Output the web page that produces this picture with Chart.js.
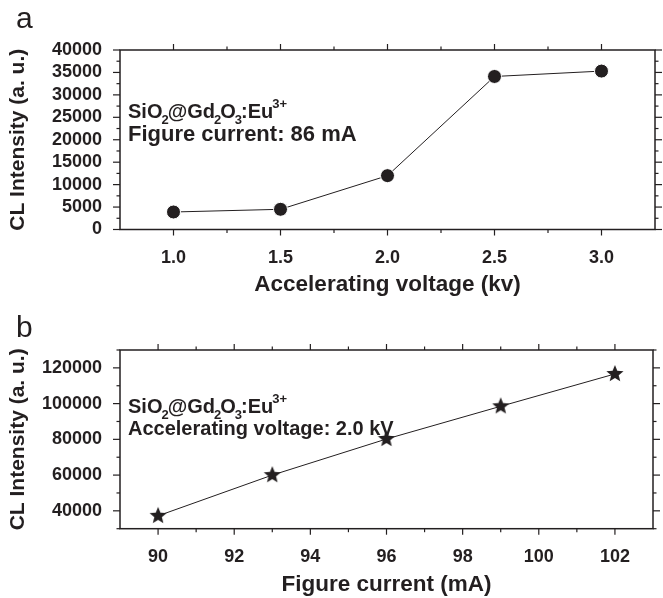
<!DOCTYPE html>
<html>
<head>
<meta charset="utf-8">
<script src="https://cdn.jsdelivr.net/npm/chart.js@4"></script>
<style>
  body { margin: 0; background: #fff; }
  #wrapA { position: absolute; left: 0; top: 0; width: 663px; height: 300px; }
  #wrapB { position: absolute; left: 0; top: 300px; width: 663px; height: 298px; }
</style>
</head>
<body>
<div id="wrapA"><canvas id="chartA"></canvas></div>
<div id="wrapB"><canvas id="chartB"></canvas></div>
<script>
// panel a: CL intensity vs accelerating voltage
var voltage = [1.0, 1.5, 2.0, 2.5, 3.0];
var intensityA = [3900, 4500, 12000, 34100, 35300];
var xTicksA = [1.0, 1.5, 2.0, 2.5, 3.0];
var yTicksA = [0, 5000, 10000, 15000, 20000, 25000, 30000, 35000, 40000];

// panel b: CL intensity vs figure current
var current = [90, 93, 96, 99, 102];
var intensityB = [37200, 60000, 80200, 98500, 116600];
var xTicksB = [90, 92, 94, 96, 98, 100, 102];
var yTicksB = [40000, 60000, 80000, 100000, 120000];

var FONT = "'Liberation Sans', Arial, Helvetica, sans-serif";
var INK = "#231f20";

// filled five point star used as marker in panel b
function makeStar(r) {
  var c = document.createElement("canvas");
  c.width = c.height = r * 2 + 2;
  var g = c.getContext("2d");
  g.translate(r + 1, r + 1);
  g.beginPath();
  for (var i = 0; i < 10; i++) {
    var rad = i % 2 ? r * 0.44 : r;
    var a = -Math.PI / 2 + i * Math.PI / 5;
    g.lineTo(rad * Math.cos(a), rad * Math.sin(a));
  }
  g.closePath();
  g.fillStyle = INK;
  g.fill();
  return c;
}

// text with sub/superscripts: parts = [[text, kind]]
function drawRich(ctx, x, y, parts, size) {
  var cx = x;
  parts.forEach(function (p) {
    var s = p[1] === "n" ? size : Math.round(size * 0.65);
    var dy = p[1] === "sub" ? size * 0.3 : (p[1] === "sup" ? -size * 0.5 : 0);
    ctx.font = "bold " + s + "px " + FONT;
    if (p[1] !== "n") cx -= 1;
    ctx.fillText(p[0], cx, y + dy);
    cx += ctx.measureText(p[0]).width;
    if (p[1] === "sub") cx -= 1;
  });
}

var formula = [["SiO", "n"], ["2", "sub"], ["@Gd", "n"], ["2", "sub"], ["O", "n"], ["3", "sub"], [":Eu", "n"], ["3+", "sup"]];

const framePlugin = {
  id: "frame",
  afterDraw(chart, args, opts) {
    const ctx = chart.ctx, a = chart.chartArea, x = chart.scales.x, y = chart.scales.y;
    ctx.save();
    ctx.strokeStyle = INK;
    ctx.lineWidth = 1.5;
    ctx.strokeRect(a.left, a.top, a.right - a.left, a.bottom - a.top);
    ctx.lineWidth = 1.2;
    function tick(x1, y1, x2, y2) { ctx.beginPath(); ctx.moveTo(x1, y1); ctx.lineTo(x2, y2); ctx.stroke(); }
    function isMajor(list, v) { return list.some(function (m) { return Math.abs(m - v) < 1e-6; }); }
    var n = Math.round((x.max - x.min) / opts.xStep);
    for (var i = 1; i < n; i++) {
      var v = x.min + i * opts.xStep, px = x.getPixelForValue(v);
      var L = isMajor(opts.xMajor, v) ? 6 : 3.5;
      tick(px, a.bottom, px, a.bottom + L);
      tick(px, a.top, px, a.top - L);
    }
    n = Math.round((y.max - y.min) / opts.yStep);
    for (var j = 0; j <= n; j++) {
      var w = y.min + j * opts.yStep, py = y.getPixelForValue(w);
      var M = isMajor(opts.yMajor, w) ? 7 : 3.5;
      tick(a.left, py, a.left - M, py);
      tick(a.right, py, a.right + M, py);
    }
    // panel letter
    ctx.fillStyle = INK;
    ctx.textBaseline = "alphabetic";
    ctx.font = "30px " + FONT;
    ctx.fillText(opts.letter, 16, opts.letterY);
    // annotation
    drawRich(ctx, a.left + 8, a.top + opts.line1, formula, 20);
    ctx.font = "bold " + opts.noteSize + "px " + FONT;
    ctx.fillText(opts.note, a.left + 8, a.top + opts.line2);
    ctx.restore();
  }
};

function axisFont(size) { return { family: FONT, size: size, weight: "bold" }; }

function makeChart(id, xs, ys, pointOpts, xr, yr, xTicks, yTicks, xTitle, xFmt, frame, xTitlePad) {
  return new Chart(id, {
    type: "line",
    data: {
      datasets: [Object.assign({
        data: xs.map(function (xi, i) { return { x: xi, y: ys[i] }; }),
        borderColor: INK,
        borderWidth: 1,
        backgroundColor: INK,
        tension: 0
      }, pointOpts)]
    },
    options: {
      responsive: true,
      maintainAspectRatio: false,
      animation: false,
      layout: { padding: { top: 50, right: 1, left: 0, bottom: 0 } },
      plugins: { legend: { display: false }, tooltip: { enabled: false }, frame: frame },
      scales: {
        x: {
          type: "linear", min: xr[0], max: xr[1],
          grid: { display: false, drawTicks: false }, border: { display: false },
          afterBuildTicks: function (s) { s.ticks = xTicks.map(function (v) { return { value: v }; }); },
          afterFit: function (s) { s.height = s.chart.height - 50 - frame.plotH; },
          ticks: { font: axisFont(18), color: INK, padding: 18, maxRotation: 0, autoSkip: false, callback: xFmt },
          title: { display: true, text: xTitle, font: axisFont(22.5), color: INK, padding: { top: 0, bottom: xTitlePad } }
        },
        y: {
          type: "linear", min: yr[0], max: yr[1],
          grid: { display: false, drawTicks: false }, border: { display: false },
          afterBuildTicks: function (s) { s.ticks = yTicks.map(function (v) { return { value: v }; }); },
          afterFit: function (s) { s.width = 120; },
          ticks: { font: axisFont(18), color: INK, padding: 18, autoSkip: false, callback: function (v) { return String(v); } },
          title: { display: true, text: "CL Intensity (a. u.)", font: axisFont(21), color: INK, padding: { top: 6, bottom: 0 } }
        }
      }
    },
    plugins: [framePlugin]
  });
}

makeChart("chartA", voltage, intensityA,
  { pointStyle: "circle", pointRadius: 7, pointBackgroundColor: INK, pointBorderColor: "#fff", pointBorderWidth: 1 },
  [0.75, 3.25], [0, 40000], xTicksA, yTicksA, "Accelerating voltage (kv)",
  function (v) { return Number(v).toFixed(1); },
  { xStep: 0.25, yStep: 2500, xMajor: xTicksA, yMajor: yTicksA, letter: "a", letterY: 28,
    note: "Figure current: 86 mA", noteSize: 22, line1: 68, line2: 91, plotH: 179.5 }, 1.5);

makeChart("chartB", current, intensityB,
  { pointStyle: makeStar(9), pointRadius: 9 },
  [89, 103], [30000, 130000], xTicksB, yTicksB, "Figure current (mA)",
  function (v) { return String(v); },
  { xStep: 1, yStep: 10000, xMajor: xTicksB, yMajor: yTicksB, letter: "b", letterY: 37,
    note: "Accelerating voltage: 2.0 kV", noteSize: 20, line1: 63, line2: 85, plotH: 178.7 }, 0);
</script>
</body>
</html>
